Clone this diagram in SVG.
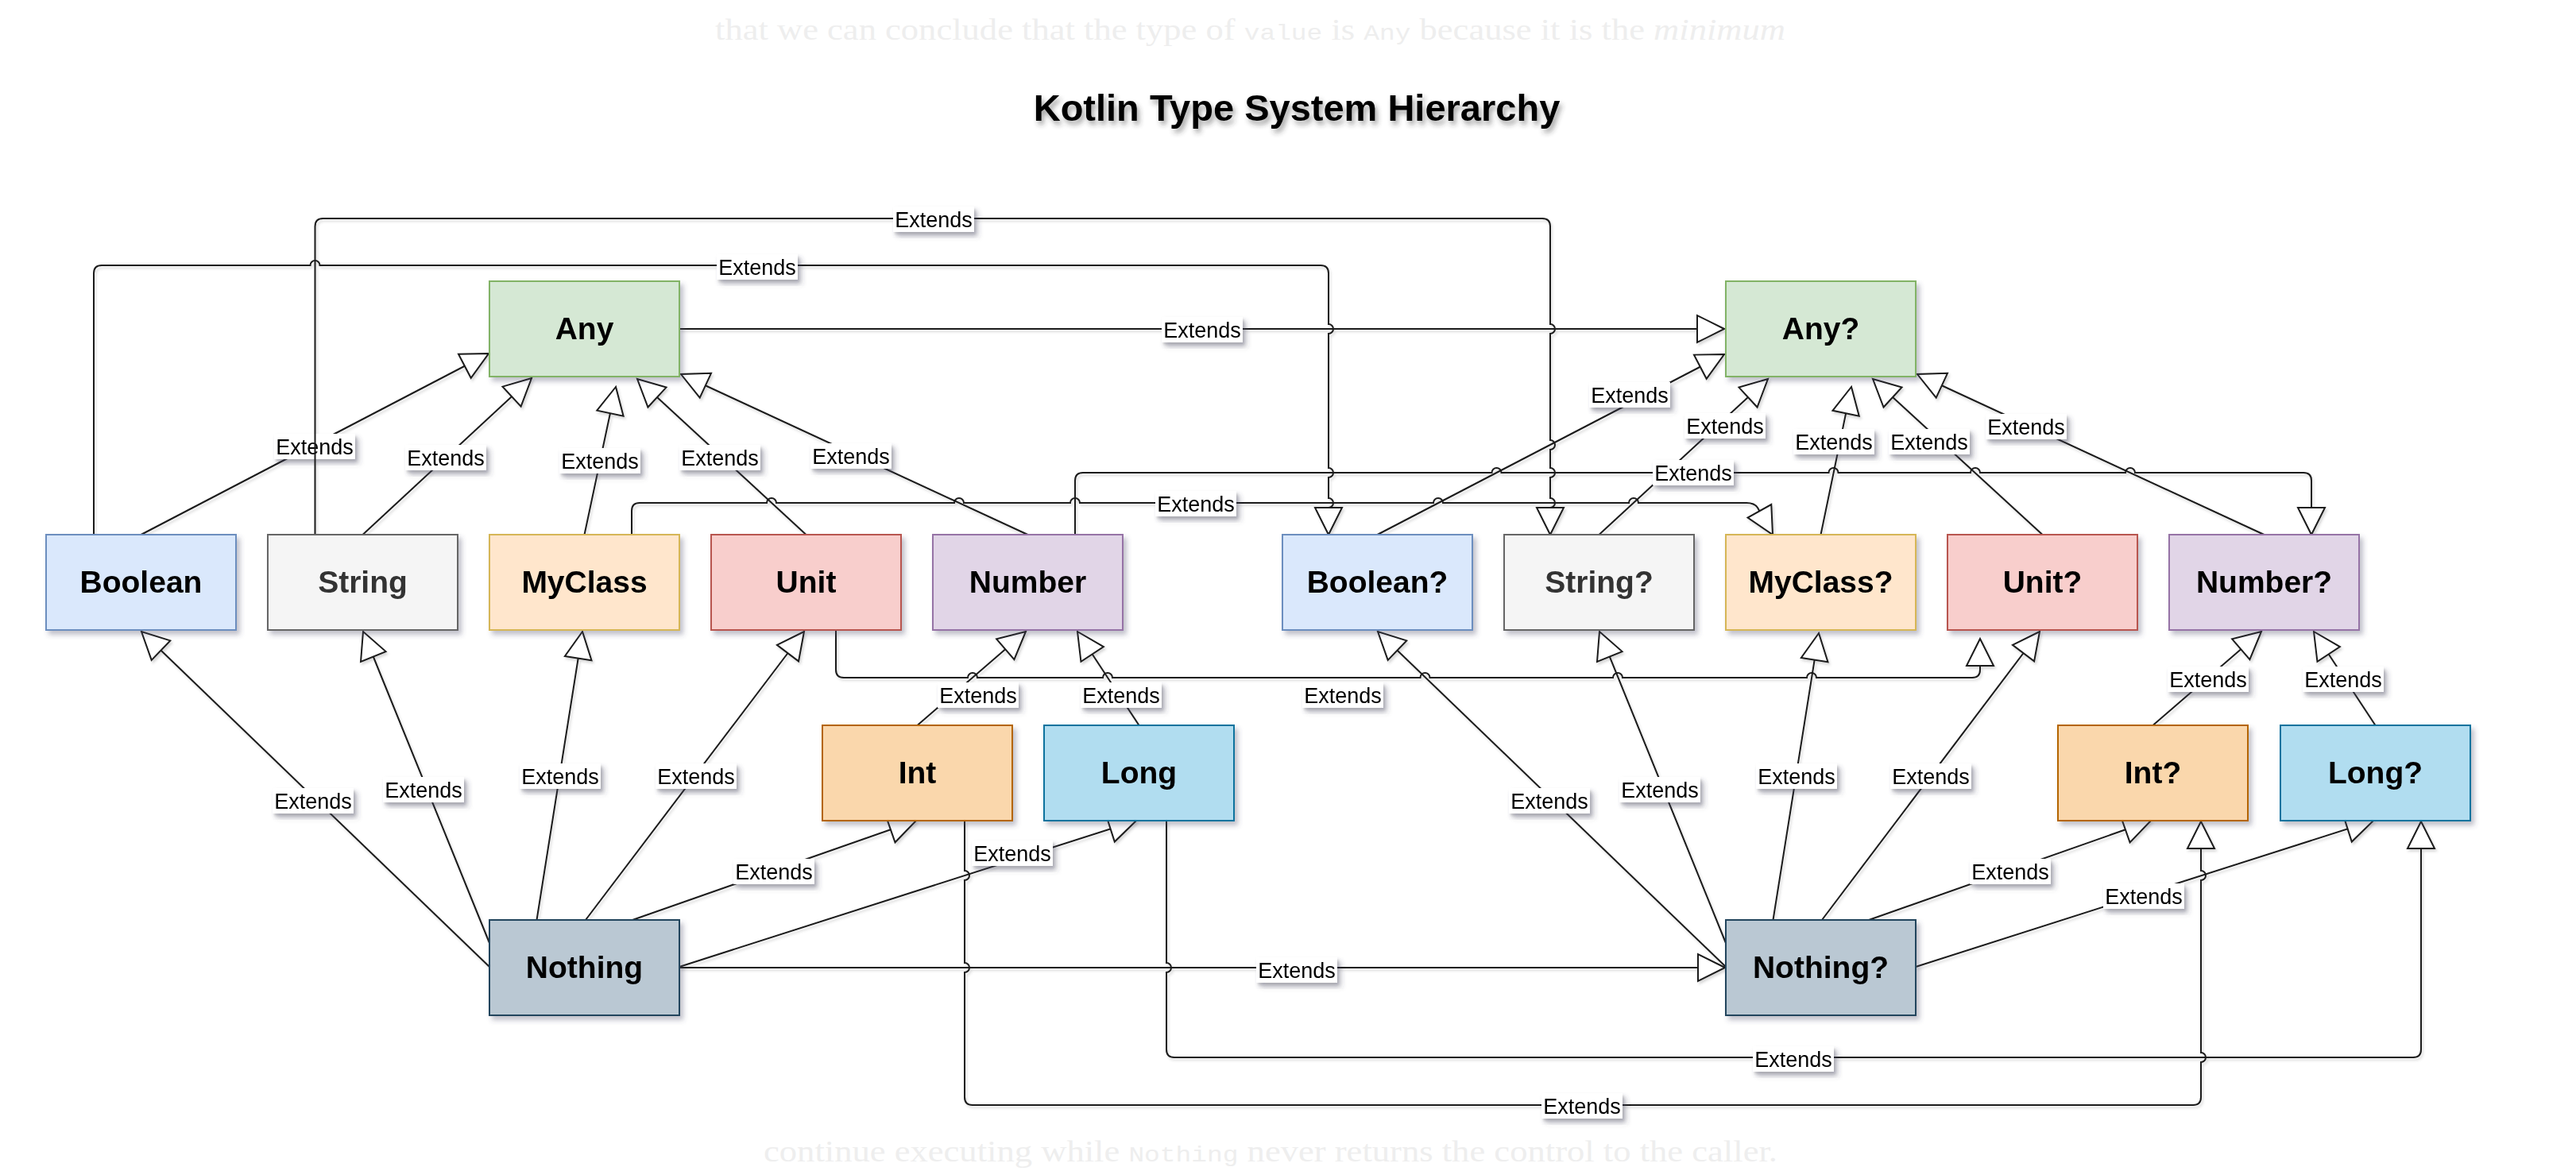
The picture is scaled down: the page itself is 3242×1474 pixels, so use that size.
<svg xmlns="http://www.w3.org/2000/svg" width="3242" height="1474" viewBox="0 0 3242 1474">
<defs>
  <filter id="sh" x="-10%" y="-10%" width="125%" height="135%">
    <feDropShadow dx="4" dy="5" stdDeviation="3" flood-color="#4a4a66" flood-opacity="0.35"/>
  </filter>
  <filter id="tsh" x="-5%" y="-20%" width="110%" height="160%">
    <feDropShadow dx="3" dy="5" stdDeviation="3" flood-color="#333" flood-opacity="0.45"/>
  </filter>
  <filter id="esh" filterUnits="userSpaceOnUse" x="0" y="0" width="3242" height="1474">
    <feDropShadow dx="2" dy="3" stdDeviation="1.5" flood-color="#555" flood-opacity="0.22"/>
  </filter>
  <marker id="tri" markerUnits="userSpaceOnUse" markerWidth="46" markerHeight="46" viewBox="-41 -23 46 46" refX="0" refY="0" orient="auto" overflow="visible">
    <path d="M0,0 L-34,-17 L-34,17 Z" fill="#ffffff" stroke="#1a1a1a" stroke-width="2"/>
  </marker>
</defs>
<style>
  .bgt { font-family: "Liberation Serif", "Times New Roman", serif; font-size: 38px; fill: #eeeeee; }
  .bgm { font-family: "Liberation Mono", monospace; font-size: 28px; }
  .title { font-family: "Liberation Sans", Arial, sans-serif; font-weight: bold; font-size: 47px; fill: #000; text-anchor: middle; }
  .node rect { stroke-width: 2; filter: url(#sh); }
  .node text { font-family: "Liberation Sans", Arial, sans-serif; font-weight: bold; font-size: 39px; text-anchor: middle; fill: #000; }
  .green { fill: #d5e8d4; stroke: #82b366; }
  .blue { fill: #dae8fc; stroke: #6c8ebf; }
  .gray { fill: #f5f5f5; stroke: #666666; }
  .orange { fill: #ffe6cc; stroke: #d6b656; }
  .red { fill: #f8cecc; stroke: #b85450; }
  .purple { fill: #e1d5e7; stroke: #9673a6; }
  .int { fill: #fad7ac; stroke: #b46504; }
  .long { fill: #b1ddf0; stroke: #10739e; }
  .nothing { fill: #bac8d3; stroke: #23445d; }
  .node text.dim { fill: #333333; }
  .edge path { fill: none; stroke: #1a1a1a; stroke-width: 2; marker-end: url(#tri); }
  .lbl rect { fill: #ffffff; filter: url(#sh); }
  .lbl text { font-family: "Liberation Sans", Arial, sans-serif; font-size: 27px; text-anchor: middle; fill: #000; }
</style>

<rect x="0" y="0" width="3242" height="1474" fill="#ffffff"/>

<text class="bgt" x="900" y="50" textLength="1347" lengthAdjust="spacingAndGlyphs">that we can conclude that the type of <tspan class="bgm">value</tspan> is <tspan class="bgm">Any</tspan> because it is the <tspan font-style="italic">minimum</tspan></text>
<text class="bgt" x="961" y="1462" textLength="1276" lengthAdjust="spacingAndGlyphs">continue executing while <tspan class="bgm">Nothing</tspan> never returns the control to the caller.</text>

<text class="title" x="1632" y="152" filter="url(#tsh)">Kotlin Type System Hierarchy</text>

<g id="connectors" filter="url(#esh)">
  <!-- diagonals to Any -->
  <g class="edge" id="e-boolean-any"><path d="M177.5,673 L615,445"/><g class="lbl"><rect x="345" y="546" width="102" height="32"/><text x="396" y="571.5">Extends</text></g></g>
  <g class="edge" id="e-string-any"><path d="M456.5,673 L669,476"/><g class="lbl"><rect x="510" y="560" width="102" height="32"/><text x="561" y="585.5">Extends</text></g></g>
  <g class="edge" id="e-myclass-any"><path d="M735.5,673 L775,487"/><g class="lbl"><rect x="704" y="564" width="102" height="32"/><text x="755" y="589.5">Extends</text></g></g>
  <g class="edge" id="e-unit-any"><path d="M1014.5,673 L802,477"/><g class="lbl"><rect x="855" y="560" width="102" height="32"/><text x="906" y="585.5">Extends</text></g></g>
  <g class="edge" id="e-number-any"><path d="M1293.5,673 L857,471"/><g class="lbl"><rect x="1020" y="558" width="102" height="32"/><text x="1071" y="583.5">Extends</text></g></g>

  <!-- diagonals to Any? -->
  <g class="edge" id="e-booleanq-anyq"><path d="M1733.5,673 L2170,446"/><g class="lbl"><rect x="2000" y="481" width="102" height="32"/><text x="2051" y="506.5">Extends</text></g></g>
  <g class="edge" id="e-stringq-anyq"><path d="M2012.5,673 L2225,477"/><g class="lbl"><rect x="2120" y="520" width="102" height="32"/><text x="2171" y="545.5">Extends</text></g></g>
  <g class="edge" id="e-myclassq-anyq"><path d="M2291.5,673 L2330,487"/><g class="lbl"><rect x="2257" y="540" width="102" height="32"/><text x="2308" y="565.5">Extends</text></g></g>
  <g class="edge" id="e-unitq-anyq"><path d="M2570.5,673 L2357,477"/><g class="lbl"><rect x="2377" y="540" width="102" height="32"/><text x="2428" y="565.5">Extends</text></g></g>
  <g class="edge" id="e-numberq-anyq"><path d="M2849.5,673 L2413,471"/><g class="lbl"><rect x="2499" y="521" width="102" height="32"/><text x="2550" y="546.5">Extends</text></g></g>

  <!-- row 3 to Number / Number? -->
  <g class="edge" id="e-int-number"><path d="M1154.5,913 L1291,795"/><g class="lbl"><rect x="1180" y="859" width="102" height="32"/><text x="1231" y="884.5">Extends</text></g></g>
  <g class="edge" id="e-long-number"><path d="M1433.5,913 L1356,795"/><g class="lbl"><rect x="1360" y="859" width="102" height="32"/><text x="1411" y="884.5">Extends</text></g></g>
  <g class="edge" id="e-intq-numberq"><path d="M2709.5,913 L2846,795"/><g class="lbl"><rect x="2728" y="839" width="102" height="32"/><text x="2779" y="864.5">Extends</text></g></g>
  <g class="edge" id="e-longq-numberq"><path d="M2989.5,913 L2912,795"/><g class="lbl"><rect x="2898" y="839" width="102" height="32"/><text x="2949" y="864.5">Extends</text></g></g>

  <!-- from Nothing -->
  <g class="edge" id="e-nothing-boolean"><path d="M616,1217 L178,795"/><g class="lbl"><rect x="343" y="992" width="102" height="32"/><text x="394" y="1017.5">Extends</text></g></g>
  <g class="edge" id="e-nothing-string"><path d="M616,1187 L457,795"/><g class="lbl"><rect x="482" y="978" width="102" height="32"/><text x="533" y="1003.5">Extends</text></g></g>
  <g class="edge" id="e-nothing-myclass"><path d="M675.5,1158 L733,795"/><g class="lbl"><rect x="654" y="961" width="102" height="32"/><text x="705" y="986.5">Extends</text></g></g>
  <g class="edge" id="e-nothing-unit"><path d="M737,1158 L1012,795"/><g class="lbl"><rect x="825" y="961" width="102" height="32"/><text x="876" y="986.5">Extends</text></g></g>
  <g class="edge" id="e-nothing-int"><path d="M796,1158 L1153,1033"/><g class="lbl"><rect x="923" y="1081" width="102" height="32"/><text x="974" y="1106.5">Extends</text></g></g>
  <g class="edge" id="e-nothing-long"><path d="M855,1217 L1430,1033"/><g class="lbl"><rect x="1223" y="1058" width="102" height="32"/><text x="1274" y="1083.5">Extends</text></g></g>
  <g class="edge" id="e-nothing-nothingq"><path d="M855,1218 L2171,1218"/><g class="lbl"><rect x="1581" y="1205" width="102" height="32"/><text x="1632" y="1230.5">Extends</text></g></g>

  <!-- from Nothing? -->
  <g class="edge" id="e-nothingq-booleanq"><path d="M2172,1217 L1734,795"/><g class="lbl"><rect x="1899" y="992" width="102" height="32"/><text x="1950" y="1017.5">Extends</text></g></g>
  <g class="edge" id="e-nothingq-stringq"><path d="M2172,1187 L2013,795"/><g class="lbl"><rect x="2038" y="978" width="102" height="32"/><text x="2089" y="1003.5">Extends</text></g></g>
  <g class="edge" id="e-nothingq-myclassq"><path d="M2231.5,1158 L2289,797"/><g class="lbl"><rect x="2210" y="961" width="102" height="32"/><text x="2261" y="986.5">Extends</text></g></g>
  <g class="edge" id="e-nothingq-unitq"><path d="M2293,1158 L2567,795"/><g class="lbl"><rect x="2379" y="961" width="102" height="32"/><text x="2430" y="986.5">Extends</text></g></g>
  <g class="edge" id="e-nothingq-intq"><path d="M2352,1158 L2707,1033"/><g class="lbl"><rect x="2479" y="1081" width="102" height="32"/><text x="2530" y="1106.5">Extends</text></g></g>
  <g class="edge" id="e-nothingq-longq"><path d="M2411,1217 L2987,1033"/><g class="lbl"><rect x="2647" y="1112" width="102" height="32"/><text x="2698" y="1137.5">Extends</text></g></g>

  <!-- orthogonal connectors -->
  <g class="edge" id="e-any-anyq"><path d="M855,414 L2170,414"/><g class="lbl"><rect x="1462" y="399" width="102" height="32"/><text x="1513" y="424.5">Extends</text></g></g>
  <g class="edge" id="e-myclass-myclassq"><path d="M795,673 V643 Q795,633 805,633 H965 A6,6 0 0 1 977,633 H1201 A6,6 0 0 1 1213,633 H1347 A6,6 0 0 1 1359,633 H1804 A6,6 0 0 1 1816,633 H2050 A6,6 0 0 1 2062,633 H2198 Q2208,633 2212,639 L2231,673"/><g class="lbl"><rect x="1454" y="618" width="102" height="32"/><text x="1505" y="643.5">Extends</text></g></g>
  <g class="edge" id="e-number-numberq"><path d="M1353,673 V605 Q1353,595 1363,595 H1877.5 A6,6 0 0 1 1889.5,595 H2091 A6,6 0 0 1 2103,595 H2301.5 A6,6 0 0 1 2313.5,595 H2480 A6,6 0 0 1 2492,595 H2675 A6,6 0 0 1 2687,595 H2899 Q2909,595 2909,605 V673"/><g class="lbl"><rect x="2080" y="579" width="102" height="32"/><text x="2131" y="604.5">Extends</text></g></g>
  <g class="edge" id="e-unit-unitq"><path d="M1052,793 V843 Q1052,853 1062,853 H1218 A6,6 0 0 1 1230,853 H1388 A6,6 0 0 1 1400,853 H1787.5 A6,6 0 0 1 1799.5,853 H2030 A6,6 0 0 1 2042,853 H2274 A6,6 0 0 1 2286,853 H2482 Q2492,853 2492,843 V804"/><g class="lbl"><rect x="1639" y="859" width="102" height="32"/><text x="1690" y="884.5">Extends</text></g></g>
  <g class="edge" id="e-boolean-booleanq"><path d="M118,673 V344 Q118,334 128,334 H390.5 A6,6 0 0 1 402.5,334 H1662 Q1672,334 1672,344 V408 A6,6 0 0 1 1672,420 V589 A6,6 0 0 1 1672,601 V627 A6,6 0 0 1 1672,639 V673"/><g class="lbl"><rect x="902" y="320" width="102" height="32"/><text x="953" y="345.5">Extends</text></g></g>
  <g class="edge" id="e-string-stringq"><path d="M396.5,673 V285 Q396.5,275 406.5,275 H1941 Q1951,275 1951,285 V408 A6,6 0 0 1 1951,420 V554 A6,6 0 0 1 1951,566 V589 A6,6 0 0 1 1951,601 V627 A6,6 0 0 1 1951,639 V673"/><g class="lbl"><rect x="1124" y="260" width="102" height="32"/><text x="1175" y="285.5">Extends</text></g></g>
  <g class="edge" id="e-long-longq"><path d="M1468,1033 V1212 A6,6 0 0 1 1468,1224 V1321 Q1468,1331 1478,1331 H3037 Q3047,1331 3047,1321 V1034"/><g class="lbl"><rect x="2206" y="1317" width="102" height="32"/><text x="2257" y="1342.5">Extends</text></g></g>
  <g class="edge" id="e-int-intq"><path d="M1214,1033 V1096 A6,6 0 0 1 1214,1108 V1212 A6,6 0 0 1 1214,1224 V1381 Q1214,1391 1224,1391 H2760 Q2770,1391 2770,1381 V1337 A6,6 0 0 0 2770,1325 V1108 A6,6 0 0 0 2770,1096 V1034"/><g class="lbl"><rect x="1940" y="1376" width="102" height="32"/><text x="1991" y="1401.5">Extends</text></g></g>
</g>

<g id="nodes">
  <g id="node-any" class="node"><rect class="green" x="616" y="354" width="239" height="120"/><text x="735.5" y="427">Any</text></g>
  <g id="node-anyq" class="node"><rect class="green" x="2172" y="354" width="239" height="120"/><text x="2291.5" y="427">Any?</text></g>

  <g id="node-boolean" class="node"><rect class="blue" x="58" y="673" width="239" height="120"/><text x="177.5" y="746">Boolean</text></g>
  <g id="node-string" class="node"><rect class="gray" x="337" y="673" width="239" height="120"/><text class="dim" x="456.5" y="746">String</text></g>
  <g id="node-myclass" class="node"><rect class="orange" x="616" y="673" width="239" height="120"/><text x="735.5" y="746">MyClass</text></g>
  <g id="node-unit" class="node"><rect class="red" x="895" y="673" width="239" height="120"/><text x="1014.5" y="746">Unit</text></g>
  <g id="node-number" class="node"><rect class="purple" x="1174" y="673" width="239" height="120"/><text x="1293.5" y="746">Number</text></g>

  <g id="node-booleanq" class="node"><rect class="blue" x="1614" y="673" width="239" height="120"/><text x="1733.5" y="746">Boolean?</text></g>
  <g id="node-stringq" class="node"><rect class="gray" x="1893" y="673" width="239" height="120"/><text class="dim" x="2012.5" y="746">String?</text></g>
  <g id="node-myclassq" class="node"><rect class="orange" x="2172" y="673" width="239" height="120"/><text x="2291.5" y="746">MyClass?</text></g>
  <g id="node-unitq" class="node"><rect class="red" x="2451" y="673" width="239" height="120"/><text x="2570.5" y="746">Unit?</text></g>
  <g id="node-numberq" class="node"><rect class="purple" x="2730" y="673" width="239" height="120"/><text x="2849.5" y="746">Number?</text></g>

  <g id="node-int" class="node"><rect class="int" x="1035" y="913" width="239" height="120"/><text x="1154.5" y="986">Int</text></g>
  <g id="node-long" class="node"><rect class="long" x="1314" y="913" width="239" height="120"/><text x="1433.5" y="986">Long</text></g>
  <g id="node-intq" class="node"><rect class="int" x="2590" y="913" width="239" height="120"/><text x="2709.5" y="986">Int?</text></g>
  <g id="node-longq" class="node"><rect class="long" x="2870" y="913" width="239" height="120"/><text x="2989.5" y="986">Long?</text></g>

  <g id="node-nothing" class="node"><rect class="nothing" x="616" y="1158" width="239" height="120"/><text x="735.5" y="1231">Nothing</text></g>
  <g id="node-nothingq" class="node"><rect class="nothing" x="2172" y="1158" width="239" height="120"/><text x="2291.5" y="1231">Nothing?</text></g>
</g>
</svg>
